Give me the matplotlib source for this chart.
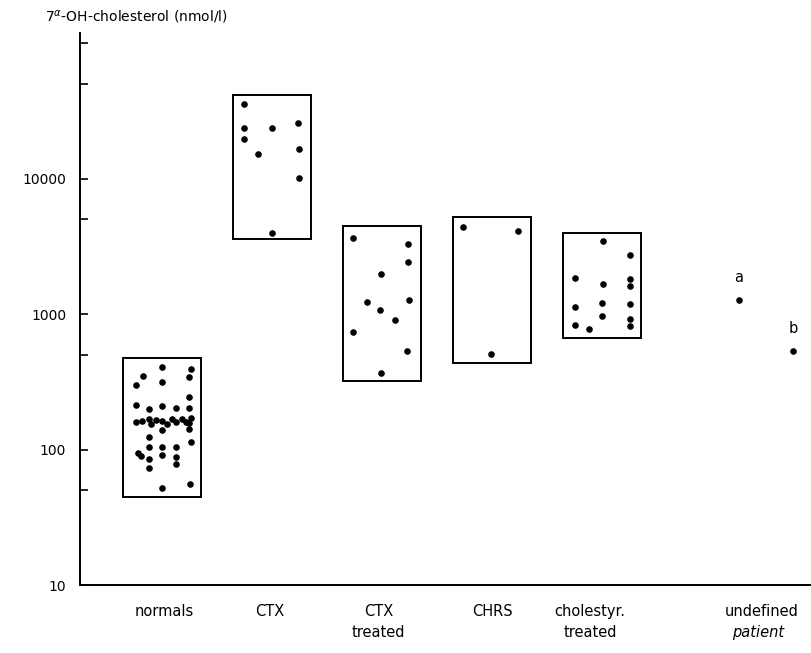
import matplotlib.pyplot as plt
import matplotlib.transforms as mtransforms
from matplotlib.patches import Rectangle
from matplotlib.ticker import NullFormatter
import numpy as np

# groups (category, box low, box high)
groups = ['normals', 'CTX', 'CTX\ntreated', 'CHRS', 'cholestyr.\ntreated']
box_low = [45, 3600, 320, 435, 665]
box_high = [470, 41000, 4460, 5200, 3960]

# values (nmol/l) and horizontal offset inside each box
normals_val = [404, 391, 349, 341, 299, 313, 243, 213, 198, 210, 202, 202,
               160, 162, 169, 154, 166, 163, 154, 167, 160, 169, 160, 170,
               158, 139, 142, 124, 113, 105, 104, 105, 94.7, 89, 84.7, 90.6,
               88.5, 78, 72.6, 51.7, 55.6]
normals_off = [0.0, 0.26, -0.17, 0.245, -0.24, 0.0, 0.25, -0.24, -0.115, 0.0,
               0.13, 0.25, -0.24, -0.185, -0.115, -0.1, -0.05, 0.0, 0.05, 0.09,
               0.13, 0.18, 0.22, 0.26, 0.25, 0.0, 0.25, -0.12, 0.26, -0.115,
               0.0, 0.13, -0.22, -0.19, -0.115, 0.005, 0.13, 0.13, -0.12, 0.0,
               0.255]

ctx_val = [35460, 23710, 23710, 25550, 19560, 15240, 16510, 10030, 3980]
ctx_off = [-0.25, -0.255, 0.0, 0.24, -0.255, -0.13, 0.245, 0.245, 0.0]

ctxt_val = [3620, 3303, 2432, 1984, 1220, 1262, 1070, 898, 737, 530, 367]
ctxt_off = [-0.26, 0.24, 0.24, -0.01, -0.14, 0.245, -0.02, 0.115, -0.265, 0.23, -0.01]

chrs_val = [4410, 4098, 507]
chrs_off = [-0.26, 0.24, -0.01]

chol_val = [3475, 2725, 1853, 1673, 1804, 1609, 1132, 1199, 1179, 967, 923,
            830, 771, 820]
chol_off = [0.006, 0.25, -0.25, 0.01, 0.255, 0.255, -0.245, 0.0, 0.25, 0.0,
            0.25, -0.25, -0.115, 0.25]

# undefined patients a and b
undef_names = ['a', 'b']
undef_x = [5.245, 5.736]
undef_val = [1269, 533]

all_val = [normals_val, ctx_val, ctxt_val, chrs_val, chol_val]
all_off = [normals_off, ctx_off, ctxt_off, chrs_off, chol_off]

fig = plt.figure(figsize=(8.12, 6.53), dpi=100)
ax = fig.add_axes([0.0985, 0.1041, 0.899, 0.8454])

half = 0.355
for i in range(len(groups)):
    ax.add_patch(Rectangle((i - half, box_low[i]), 2 * half,
                           box_high[i] - box_low[i],
                           fill=False, ec='black', lw=1.4))
    xs = i + np.array(all_off[i])
    ax.scatter(xs, all_val[i], s=14, color='black', zorder=3)

ax.scatter(undef_x, undef_val, s=14, color='black', zorder=3)
for nm, x, v in zip(undef_names, undef_x, undef_val):
    ax.annotate(nm, (x, v), xytext=(0, 11), textcoords='offset points',
                ha='center', va='bottom', fontsize=10.5)

ax.set_yscale('log')
ax.set_ylim(10, 118600)
ax.set_xlim(-0.745, 5.89)

ax.set_yticks([10, 100, 1000, 10000])
ax.set_yticklabels(['10', '100', '1000', '10000'])
ax.set_yticks([50, 500, 5000, 50000, 100000], minor=True)
ax.yaxis.set_minor_formatter(NullFormatter())
ax.tick_params(axis='y', which='major', direction='in', length=6, width=1.2,
               pad=10, labelsize=10)
ax.tick_params(axis='y', which='minor', direction='in', length=6, width=1.2)

ax.spines['top'].set_visible(False)
ax.spines['right'].set_visible(False)
ax.spines['left'].set_linewidth(1.4)
ax.spines['bottom'].set_linewidth(1.4)

ax.set_xticks([])
trans = mtransforms.blended_transform_factory(ax.transData, ax.transAxes)
label_x = [0.02, -0.02, -0.03, 0.0, -0.11]
for i, g in enumerate(groups):
    ax.text(i + label_x[i], -0.035, g, transform=trans, ha='center',
            va='top', fontsize=10.5, linespacing=1.45)
ax.text(5.45, -0.035, 'undefined', transform=trans, ha='center', va='top',
        fontsize=10.5)
ax.text(5.42, -0.072, 'patient', transform=trans, ha='center', va='top',
        fontsize=10.5, style='italic')

fig.text(0.055, 0.974, '7$^{\\alpha}$-OH-cholesterol (nmol/l)', fontsize=10,
         ha='left', va='center')

fig.savefig('out.png', dpi=100)
